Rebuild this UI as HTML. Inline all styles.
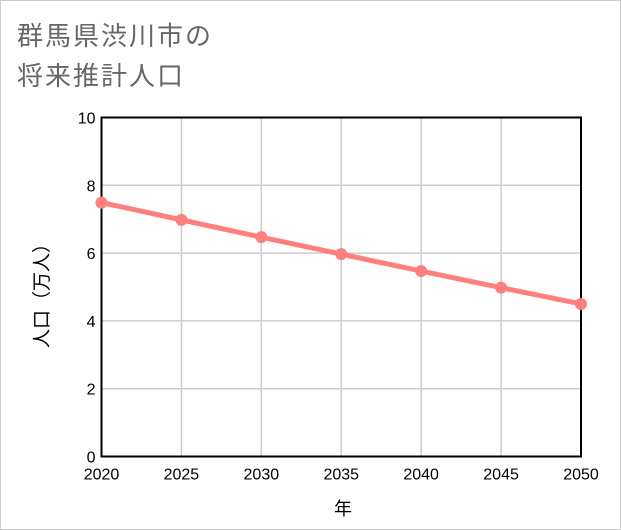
<!DOCTYPE html>
<html><head><meta charset="utf-8"><style>
body{margin:0;background:#fff}
#c{position:relative;width:621px;height:530px;box-sizing:border-box;border:1px solid #ccc;background:#fff;overflow:hidden}
text{font-family:"Liberation Sans","Noto Sans CJK JP",sans-serif}
</style></head><body>
<div id="c">
<svg id="s" width="621" height="530">
<text x="16" y="44" font-size="26" letter-spacing="2" fill="#666">群馬県渋川市の</text>
<text x="16" y="84" font-size="26" letter-spacing="2" fill="#666">将来推計人口</text>
<text x="342" y="514" font-size="18" text-anchor="middle" fill="#000">年</text>
<text transform="translate(47,290) rotate(-90)" font-size="19" text-anchor="middle" fill="#000">人口（万人）</text>
<g id="g"></g>
</svg>
</div>
<script>
const years=[2020,2025,2030,2035,2040,2045,2050];
const pop=[7.49,6.98,6.47,5.97,5.47,4.98,4.50];
const yTicks=[0,2,4,6,8,10];
const L=100.5,R=580,T=116.5,B=455.5;
const xs=v=>L+(v-2020)/30*(R-L);
const ys=v=>B-v/10*(B-T);
const g=document.getElementById('g');
const NS='http://www.w3.org/2000/svg';
function mk(t,a){const e=document.createElementNS(NS,t);for(const k in a)e.setAttribute(k,a[k]);g.appendChild(e);return e;}
yTicks.forEach(v=>{
 const l=mk('line',{x1:L,x2:R,y1:ys(v),y2:ys(v),stroke:'#ccc','stroke-width':1.5});
 
 
 const t=mk('text',{x:L-6,y:ys(v)+6,'font-size':16,'text-anchor':'end',fill:'#000'});
 t.textContent=v;
 
 
});
years.forEach(v=>{
 const l=mk('line',{x1:xs(v),x2:xs(v),y1:T,y2:B,stroke:'#ccc','stroke-width':1.5});
 
 
 const t=mk('text',{x:xs(v),y:B+23,'font-size':16,'text-anchor':'middle',fill:'#000'});
 t.textContent=v;
 
 
});
const fr=mk('rect',{x:L,y:T,width:R-L,height:B-T,fill:'none',stroke:'#000','stroke-width':2});


const pl=mk('polyline',{points:years.map((y,i)=>xs(y)+','+ys(pop[i])).join(' '),fill:'none',stroke:'#ff7f7f','stroke-width':5});


years.forEach((y,i)=>{
 const c=mk('circle',{cx:xs(y),cy:ys(pop[i]),r:6,fill:'#ff7f7f'});
 
 
});
</script>
</body></html>
